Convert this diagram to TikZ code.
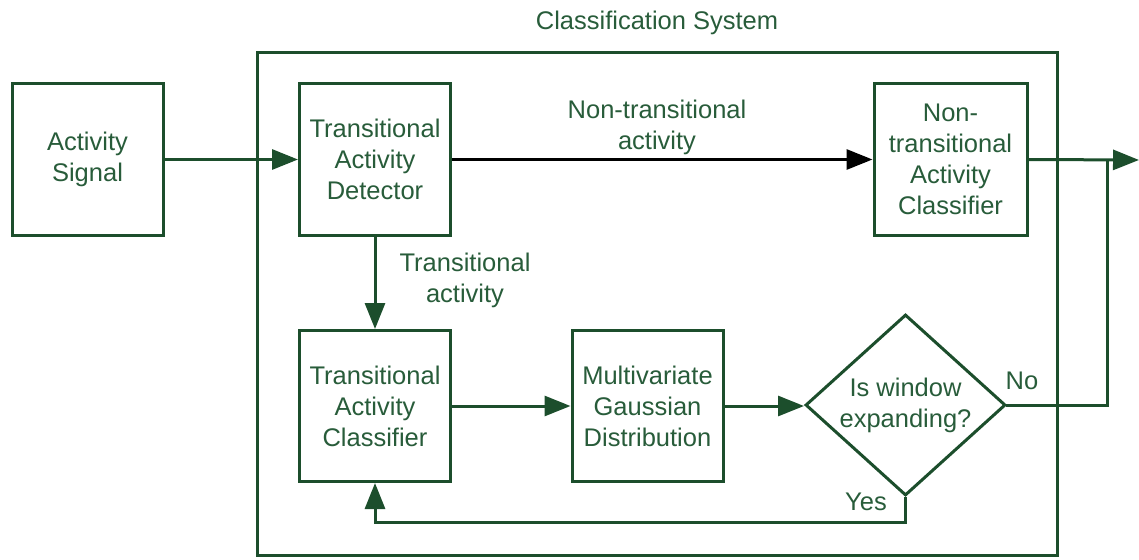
\documentclass[tikz,border=0pt]{standalone}
\usepackage{fontspec}
\setmainfont{Liberation Sans}
\usetikzlibrary{arrows.meta,shapes.geometric}
\definecolor{fg}{RGB}{28,78,44}
\definecolor{txt}{RGB}{40,92,58}
\tikzset{
  txtfont/.style={font=\fontsize{25.5}{31}\selectfont},
  block/.style={draw=fg, line width=3pt, fill=white, inner sep=0pt,
    minimum width=151pt, minimum height=151pt, align=center, text=txt, txtfont},
  decision/.style={diamond, draw=fg, line width=3pt, inner sep=0pt, shape aspect=1.1,
    minimum width=200pt, minimum height=181pt, align=center, text=txt, txtfont},
  lbl/.style={align=center, text=txt, inner sep=0pt, txtfont},
  flow/.style={draw=fg, line width=3pt, -{Triangle[length=26pt,width=20pt]}},
  plain/.style={draw=fg, line width=3pt, line cap=rect}
}
\begin{document}
\begin{tikzpicture}[x=1pt,y=-1pt]
\useasboundingbox (0,0) rectangle (1139,559);

% enclosing system frame
\draw[fg, line width=3pt] (257,53) rectangle (1057,555);
\node[lbl] (title) at (657,23) {Classification System};

% blocks
\node[block] (sig) at (87.5,159.5) {Activity\\Signal};
\node[block] (tad) at (375,159.5) {Transitional\\Activity\\Detector};
\node[block, minimum width=153pt] (ntc) at (950.5,159.5) {Non-\\transitional\\Activity\\Classifier};
\node[block] (tac) at (375,406) {Transitional\\Activity\\Classifier};
\node[block] (mgd) at (647.5,406) {Multivariate\\Gaussian\\Distribution};
\node[decision] (dec) at (905.5,405) {Is window\\expanding?};

% edge labels
\node[lbl] (ntlbl) at (657,127) {Non-transitional\\activity};
\node[lbl] (tlbl) at (465,280) {Transitional\\activity};
\node[lbl] (no) at (1022,381) {No};
\node[lbl] (yes) at (866,502) {Yes};

% connectors
\coordinate (out) at (1139,160);
\coordinate (join) at (1107,160);
\draw[flow] (sig) -- (tad);
\draw[flow, draw=black] (tad) -- (ntc);
\draw[flow] (tad) -- (tac);
\draw[flow] (tac) -- (mgd);
\draw[flow] (mgd.east) -- (mgd.east -| dec.west);
\draw[flow] (ntc.east) -- (out);
\draw[plain] (dec.east) -| (join);
\draw[flow] (dec.south) -- ++(0,25) -| (tac.south);
\end{tikzpicture}
\end{document}
